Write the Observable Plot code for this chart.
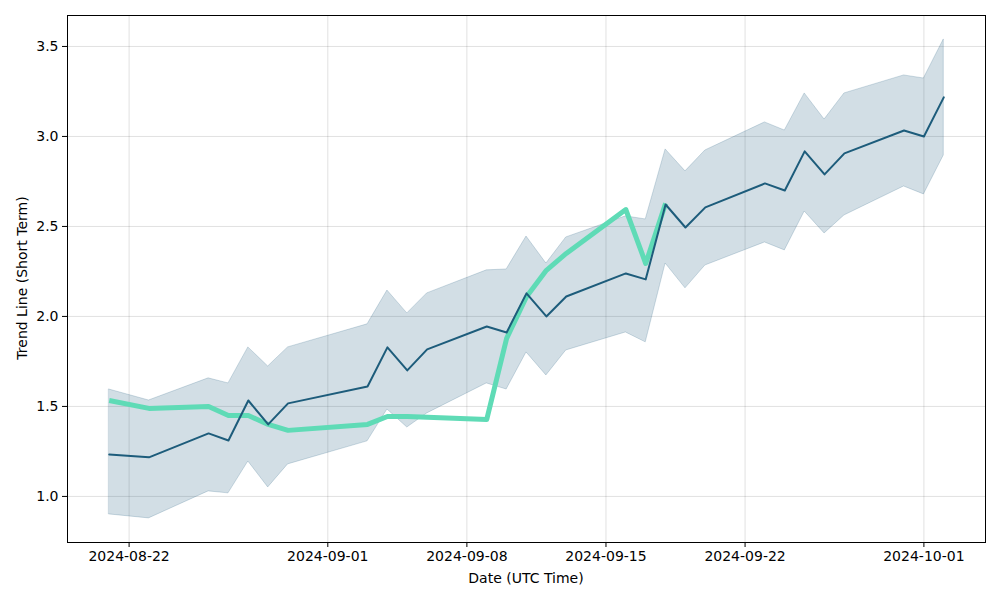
<!DOCTYPE html>
<html>
<head>
<meta charset="utf-8">
<script src="https://cdn.jsdelivr.net/npm/d3@7"></script>
<script src="https://cdn.jsdelivr.net/npm/@observablehq/plot@0.6"></script>
<style>
  html, body { margin: 0; padding: 0; background: #fff; }
  #chart { width: 1000px; height: 600px; }
</style>
</head>
<body>
<div id="chart"></div>
<script>
const dates = ["2024-08-21","2024-08-23","2024-08-26","2024-08-27","2024-08-28","2024-08-29","2024-08-30",
  "2024-09-03","2024-09-04","2024-09-05","2024-09-06","2024-09-09","2024-09-10","2024-09-11","2024-09-12","2024-09-13",
  "2024-09-16","2024-09-17","2024-09-18","2024-09-19","2024-09-20","2024-09-23","2024-09-24","2024-09-25","2024-09-26",
  "2024-09-27","2024-09-30","2024-10-01","2024-10-02"];
const trend = [1.233,1.217,1.35,1.311,1.533,1.40,1.517,1.611,1.828,1.70,1.817,1.944,1.911,2.128,2.0,2.111,
  2.239,2.206,2.622,2.494,2.606,2.739,2.70,2.917,2.789,2.906,3.033,3.0,3.217];
const upper = [1.594,1.533,1.656,1.628,1.828,1.722,1.828,1.956,2.144,2.017,2.128,2.256,2.261,2.444,2.294,2.439,
  2.556,2.539,2.928,2.806,2.922,3.078,3.033,3.239,3.094,3.239,3.339,3.322,3.539];
const lower = [0.90,0.878,1.028,1.017,1.194,1.05,1.178,1.306,1.483,1.383,1.461,1.628,1.594,1.80,1.672,1.811,
  1.911,1.856,2.294,2.156,2.283,2.411,2.367,2.583,2.461,2.561,2.722,2.678,2.894];
const actualDates = dates.slice(0, 19);
const actual = [1.533,1.489,1.50,1.45,1.45,1.40,1.367,1.40,1.444,1.444,1.44,1.428,1.878,2.11,2.256,2.35,
  2.594,2.294,2.628];
const xTicks = ["2024-08-22","2024-09-01","2024-09-08","2024-09-15","2024-09-22","2024-10-01"];
const yTicks = [1.0,1.5,2.0,2.5,3.0,3.5];

const parse = d3.utcParse("%Y-%m-%d");
const band = dates.map((d, i) => ({date: parse(d), trend: trend[i], upper: upper[i], lower: lower[i]}));
const act = actualDates.map((d, i) => ({date: parse(d), value: actual[i]}));

const col = "#1d5c7b";
const font = "DejaVu Sans, sans-serif";

const chart = Plot.plot({
  width: 1000,
  height: 600,
  marginLeft: 67,
  marginRight: 15,
  marginTop: 15,
  marginBottom: 58,
  style: {fontFamily: font, fontSize: "14px", color: "#000", background: "#fff"},
  x: {type: "utc", domain: [new Date(Date.UTC(2024, 7, 18, 21, 36)), new Date(Date.UTC(2024, 9, 4, 2, 24))]},
  y: {domain: [0.744, 3.672]},
  marks: [
    Plot.gridX(xTicks.map(parse), {stroke: "#000", strokeOpacity: 0.12, strokeWidth: 1}),
    Plot.gridY(yTicks, {stroke: "#000", strokeOpacity: 0.12, strokeWidth: 1}),
    Plot.areaY(band, {x: "date", y1: "lower", y2: "upper", fill: col, fillOpacity: 0.2, stroke: col, strokeOpacity: 0.2, strokeWidth: 1}),
    Plot.lineY(act, {x: "date", y: "value", stroke: "#5fdbb6", strokeWidth: 5, strokeLinejoin: "round", strokeLinecap: "butt"}),
    Plot.lineY(band, {x: "date", y: "trend", stroke: col, strokeWidth: 2}),
    Plot.axisX(xTicks.map(parse), {tickFormat: d3.utcFormat("%Y-%m-%d"), tickSize: 5, tickPadding: 4, label: null, fontSize: 14}),
    Plot.axisY(yTicks, {tickFormat: d3.format(".1f"), tickSize: 5, tickPadding: 4, label: null, fontSize: 14}),
    Plot.frame({stroke: "#000", strokeWidth: 1})
  ]
});

const svg = d3.select(chart);
svg.append("text")
  .attr("x", 526).attr("y", 583)
  .attr("text-anchor", "middle")
  .style("font-family", font).style("font-size", "14px").attr("fill", "#000")
  .text("Date (UTC Time)");
svg.append("text")
  .attr("transform", "translate(27,278) rotate(-90)")
  .attr("text-anchor", "middle")
  .style("font-family", font).style("font-size", "14px").attr("fill", "#000")
  .text("Trend Line (Short Term)");

document.getElementById("chart").appendChild(chart);
</script>
</body>
</html>
